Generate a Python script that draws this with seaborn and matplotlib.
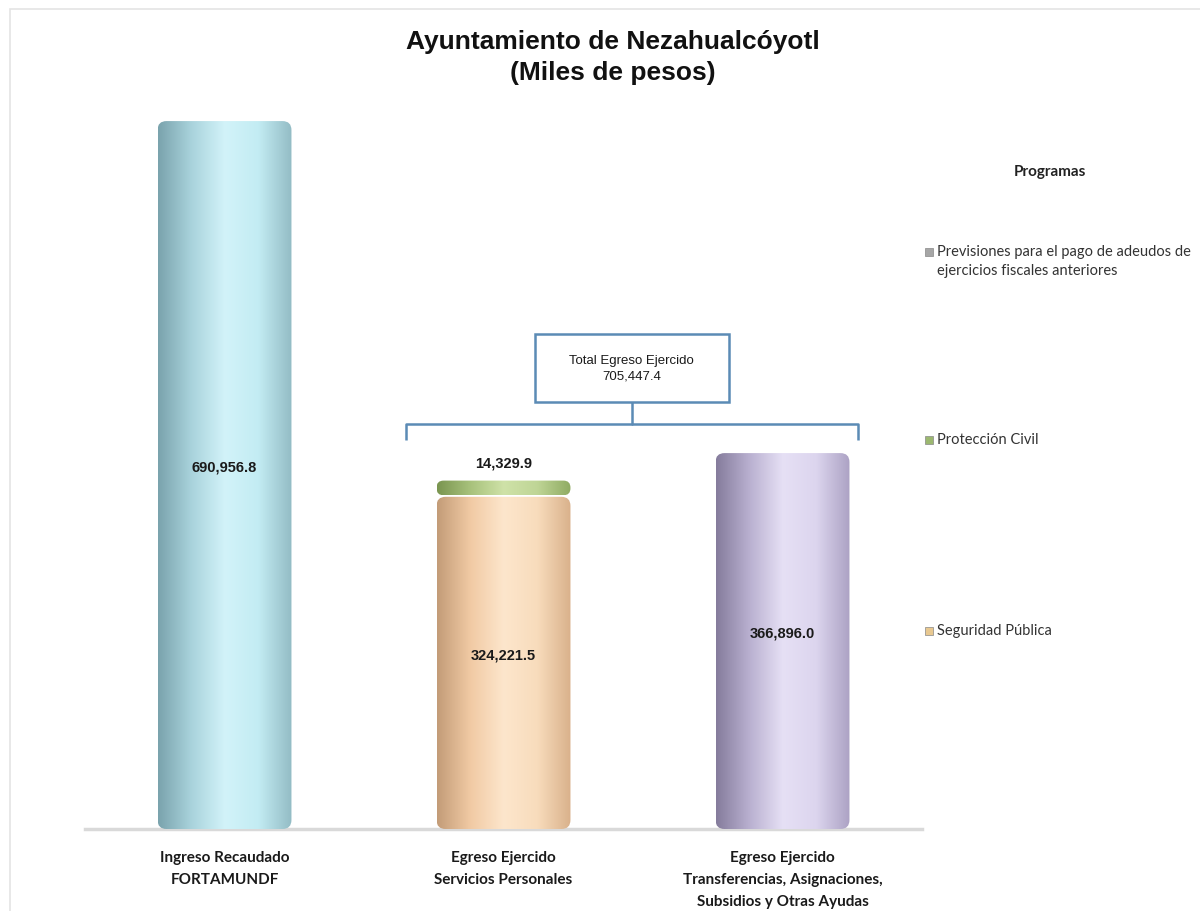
import numpy as np
import matplotlib
matplotlib.use("Agg")
import matplotlib.pyplot as plt
from matplotlib.colors import LinearSegmentedColormap
from matplotlib.patches import Rectangle, FancyBboxPatch
import seaborn as sns

# ---------------- data ----------------
categories = [
    "Ingreso Recaudado\nFORTAMUNDF",
    "Egreso Ejercido\nServicios Personales",
    "Egreso Ejercido\nTransferencias, Asignaciones,\nSubsidios y Otras Ayudas",
]
base_values = [690956.8, 324221.5, 366896.0]      # main cylinder of each column
proteccion_civil = [0.0, 14329.9, 0.0]           # stacked on top of column 2
total_egreso = 705447.4
legend_labels = [
    "Previsiones para el pago de adeudos de\nejercicios fiscales anteriores",
    "Protección Civil",
    "Seguridad Pública",
]
title_lines = ["Ayuntamiento de Nezahualcóyotl", "(Miles de pesos)"]

# ---------------- style ----------------
sns.set_theme(style="white")
BODY = ["Lato", "Open Sans", "DejaVu Sans"]
plt.rcParams["font.family"] = BODY
COND = dict(family=["Liberation Sans", "DejaVu Sans"])

bar_grads = [
    ["#7aa3ad", "#a9d3dc", "#d2f3f9", "#c3ecf3", "#93bcc5"],
    ["#c39c78", "#f1caa4", "#fde6cc", "#f8dcbc", "#d9b18b"],
    ["#857c9c", "#b9b0d0", "#e6e0f5", "#dcd5ee", "#aca2c4"],
]
green_grad = ["#7a9550", "#a8c27c", "#cfe2a8", "#bfd596", "#8fab62"]
legend_colors = ["#a6a6a6", "#9cb870", "#e8c890"]
bracket_color = "#5b8bb5"

fig = plt.figure(figsize=(12, 9.12), dpi=100)
ax = fig.add_axes([85 / 1200, 1 - 830 / 912, 837 / 1200, 730 / 912])

sns.barplot(x=categories, y=base_values, ax=ax, width=0.48,
            color="#cccccc", edgecolor="none", linewidth=0)
base_patches = list(ax.patches)

green_patches = []
for p, v, b in zip(base_patches, proteccion_civil, base_values):
    if v > 0:
        gp = ax.bar(p.get_x(), v, width=p.get_width(), bottom=b + 1500, align="edge",
                    color="#9cb870", edgecolor="none")[0]
        green_patches.append(gp)

ymax = 712500
px_x = 837 / 3.0
px_y = 730 / ymax
ASPECT = px_x / px_y


def shade(patch, colors, radius_px=9):
    cmap = LinearSegmentedColormap.from_list("g", colors)
    grad = np.linspace(0, 1, 256).reshape(1, -1)
    x0, y0 = patch.get_x(), patch.get_y()
    w, h = patch.get_width(), patch.get_height()
    patch.set_facecolor("none")
    r = min(radius_px / px_x, h * px_y / px_x / 2)
    rp = FancyBboxPatch((x0, y0), w, h, boxstyle=f"round,pad=0,rounding_size={r}",
                        mutation_aspect=ASPECT, facecolor="none", edgecolor="none",
                        transform=ax.transData)
    ax.add_patch(rp)
    im = ax.imshow(grad, cmap=cmap, aspect="auto", extent=[x0, x0 + w, y0, y0 + h],
                   zorder=3, interpolation="bicubic")
    im.set_clip_path(rp)


for p, cols in zip(base_patches, bar_grads):
    shade(p, cols)
for gp in green_patches:
    shade(gp, green_grad, radius_px=7)

ax.set_xlim(-0.5, 2.5)
ax.set_ylim(0, ymax)

# value labels
for p, v in zip(base_patches, base_values):
    ax.text(p.get_x() + p.get_width() / 2, v / 2 + 8000, f"{v:,.1f}", ha="center",
            va="center", fontsize=10.5, fontweight="bold", color="#1a1a1a", zorder=5, **COND)
for gp, v, b in zip(green_patches, [x for x in proteccion_civil if x > 0],
                    [b for b, x in zip(base_values, proteccion_civil) if x > 0]):
    ax.text(gp.get_x() + gp.get_width() / 2, b + v + 19000, f"{v:,.1f}",
            ha="center", va="center", fontsize=10.5, fontweight="bold",
            color="#1a1a1a", zorder=5, **COND)

# bracket and total box
x_left = base_patches[1].get_x() - 0.11
x_right = base_patches[2].get_x() + base_patches[2].get_width() + 0.03
y_br = 395000
y_tip = 380000
ax.plot([x_left, x_left, x_right, x_right], [y_tip, y_br, y_br, y_tip],
        color=bracket_color, lw=1.8, solid_capstyle="butt", zorder=4, clip_on=False)
x_mid = (x_left + x_right) / 2
box_bottom = 416800
box_h = 66400
box_w = 0.695
ax.plot([x_mid, x_mid], [y_br, box_bottom], color=bracket_color, lw=1.8, zorder=4)
ax.add_patch(Rectangle((x_mid - box_w / 2, box_bottom), box_w, box_h, facecolor="white",
                       edgecolor=bracket_color, linewidth=1.8, zorder=4))
ax.text(x_mid, box_bottom + box_h / 2, f"Total Egreso Ejercido\n{total_egreso:,.1f}",
        ha="center", va="center", fontsize=9.5, color="#1a1a1a", linespacing=1.45,
        zorder=5, **COND)

# axes styling
for s in ["top", "right", "left"]:
    ax.spines[s].set_visible(False)
ax.spines["bottom"].set_color("#d9d9d9")
ax.spines["bottom"].set_linewidth(2.5)
ax.set_yticks([])
ax.tick_params(axis="x", length=0, pad=15)
for lbl in ax.get_xticklabels():
    lbl.set_fontsize(11)
    lbl.set_fontweight("bold")
    lbl.set_family(BODY)
    lbl.set_color("#1a1a1a")
    lbl.set_linespacing(1.75)
    lbl.set_verticalalignment("top")
ax.set_xlabel("")
ax.set_ylabel("")

# title
fig.text(613 / 1200, 1 - 42 / 912, title_lines[0], ha="center", va="center",
         fontsize=19, fontweight="bold", color="#111111", **COND)
fig.text(613 / 1200, 1 - 73 / 912, title_lines[1], ha="center", va="center",
         fontsize=19, fontweight="bold", color="#111111", **COND)

# legend (Programas)
fig.text(1050 / 1200, 1 - 172 / 912, "Programas", ha="center", va="center",
         fontsize=11, fontweight="bold", color="#222222")
leg_y = [253, 441, 632]
for lab, col, yy in zip(legend_labels, legend_colors, leg_y):
    fig.patches.append(Rectangle((925 / 1200, 1 - (yy + 4) / 912), 8 / 1200, 8 / 912,
                                 transform=fig.transFigure, facecolor=col,
                                 edgecolor="#888888", linewidth=0.5))
    fig.text(937 / 1200, 1 - (yy - 8) / 912, lab, ha="left", va="top",
             fontsize=10.5, color="#333333", linespacing=1.5)

# faint outer frame
fig.patches.append(Rectangle((10 / 1200, -0.02), 1.0, 1 - 10 / 912 + 0.02,
                             transform=fig.transFigure, facecolor="none",
                             edgecolor="#e4e4e4", linewidth=1.2))

fig.savefig("out.png", dpi=100)
